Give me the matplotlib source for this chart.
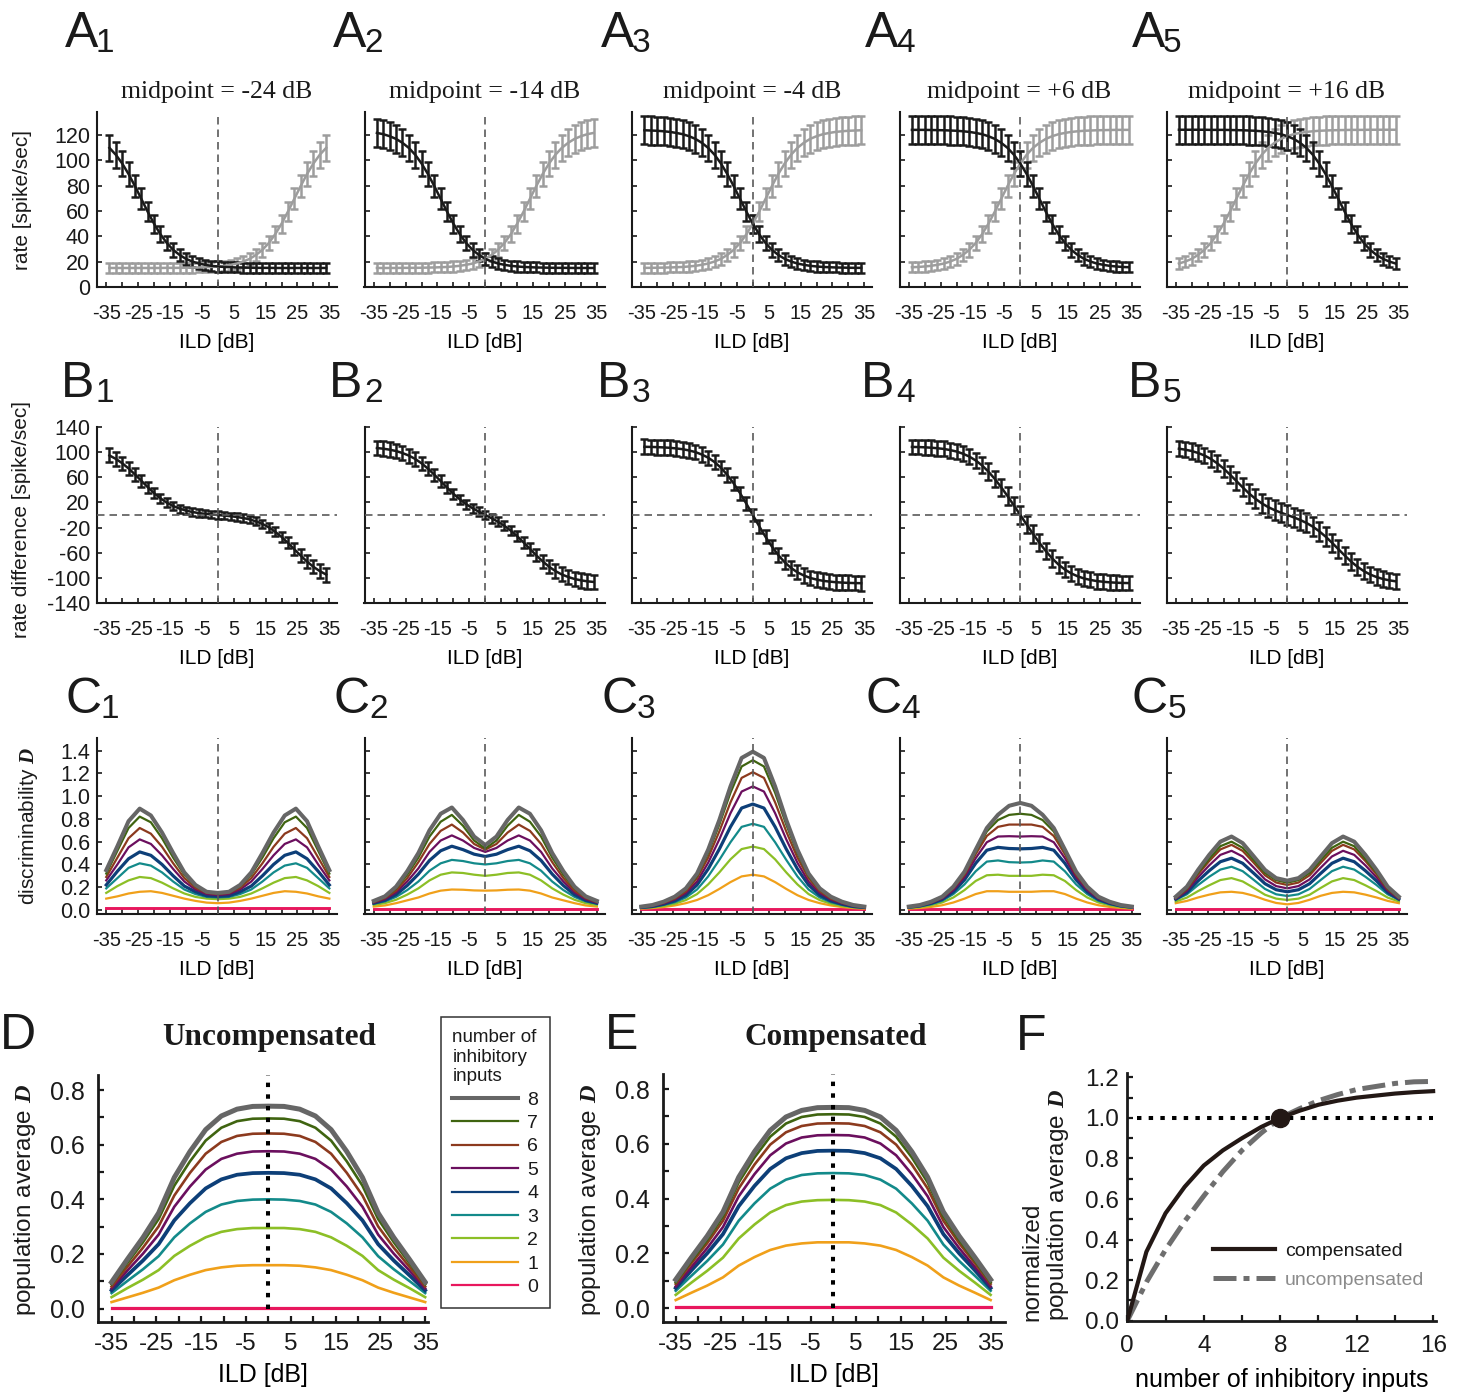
"""ILD tuning of two opponent channels, their rate difference and discriminability."""

import matplotlib.pyplot as plt
import numpy as np
from matplotlib.lines import Line2D
from matplotlib.ticker import FormatStrFormatter

FIG_W, FIG_H = 1460, 1393
DPI = 100
INK = "#1a1a1a"
GREY_RATE = "#9d9d9d"

plt.rcParams["font.family"] = "Liberation Sans"
plt.rcParams["mathtext.fontset"] = "custom"
plt.rcParams["mathtext.it"] = "Liberation Serif:italic:bold"
plt.rcParams["mathtext.rm"] = "Liberation Serif"
plt.rcParams["text.color"] = INK
plt.rcParams["axes.unicode_minus"] = False

# ---------------------------------------------------------------- data
ild_rate = [-34, -32, -30, -28, -26, -24, -22, -20, -18, -16, -14, -12,
            -10, -8, -6, -4, -2, 0, 2, 4, 6, 8, 10, 12, 14, 16, 18, 20,
            22, 24, 26, 28, 30, 32, 34]

# firing rate [spike/sec] of the channel that falls with ILD, one per midpoint
rate_m24 = [109.7, 104.3, 97.4, 89.1, 79.6, 69.5, 59.4, 49.9, 41.6, 34.7,
            29.3, 25.3, 22.2, 20.1, 18.5, 17.5, 16.7, 16.2, 15.8, 15.6,
            15.4, 15.3, 15.2, 15.1, 15.1, 15.1, 15.0, 15.0, 15.0, 15.0,
            15.0, 15.0, 15.0, 15.0, 15.0]
rate_m14 = [121.5, 120.5, 118.9, 116.8, 113.7, 109.7, 104.3, 97.4, 89.1, 79.6,
            69.5, 59.4, 49.9, 41.6, 34.7, 29.3, 25.3, 22.2, 20.1, 18.5,
            17.5, 16.7, 16.2, 15.8, 15.6, 15.4, 15.3, 15.2, 15.1, 15.1,
            15.1, 15.0, 15.0, 15.0, 15.0]
rate_m4 = [123.6, 123.4, 123.2, 122.8, 122.3, 121.5, 120.5, 118.9, 116.8, 113.7,
           109.7, 104.3, 97.4, 89.1, 79.6, 69.5, 59.4, 49.9, 41.6, 34.7,
           29.3, 25.3, 22.2, 20.1, 18.5, 17.5, 16.7, 16.2, 15.8, 15.6,
           15.4, 15.3, 15.2, 15.1, 15.1]
rate_p6 = [123.9, 123.9, 123.9, 123.8, 123.7, 123.6, 123.4, 123.2, 122.8, 122.3,
           121.5, 120.5, 118.9, 116.8, 113.7, 109.7, 104.3, 97.4, 89.1, 79.6,
           69.5, 59.4, 49.9, 41.6, 34.7, 29.3, 25.3, 22.2, 20.1, 18.5,
           17.5, 16.7, 16.2, 15.8, 15.6]
rate_p16 = [124.0, 124.0, 124.0, 124.0, 124.0, 123.9, 123.9, 123.9, 123.8, 123.7,
            123.6, 123.4, 123.2, 122.8, 122.3, 121.5, 120.5, 118.9, 116.8, 113.7,
            109.7, 104.3, 97.4, 89.1, 79.6, 69.5, 59.4, 49.9, 41.6, 34.7,
            29.3, 25.3, 22.2, 20.1, 18.5]

midpoint_titles = ["midpoint = -24 dB", "midpoint = -14 dB", "midpoint = -4 dB",
                   "midpoint = +6 dB", "midpoint = +16 dB"]

ild_disc = [-35, -31.5, -28, -24.5, -21, -17.5, -14, -10.5, -7, -3.5, 0,
            3.5, 7, 10.5, 14, 17.5, 21, 24.5, 28, 31.5, 35]

# discriminability D, rows = number of inhibitory inputs 0..8
disc_m24 = [
    [0.015] * 21,
    [0.10, 0.12, 0.145, 0.16, 0.165, 0.15, 0.125, 0.10, 0.08, 0.065, 0.06, 0.065, 0.08, 0.10, 0.125, 0.15, 0.165, 0.16, 0.145, 0.12, 0.10],
    [0.15, 0.21, 0.26, 0.29, 0.28, 0.24, 0.19, 0.145, 0.115, 0.10, 0.095, 0.10, 0.115, 0.145, 0.19, 0.24, 0.28, 0.29, 0.26, 0.21, 0.15],
    [0.19, 0.28, 0.37, 0.41, 0.39, 0.33, 0.25, 0.18, 0.14, 0.115, 0.11, 0.115, 0.14, 0.18, 0.25, 0.33, 0.39, 0.41, 0.37, 0.28, 0.19],
    [0.22, 0.34, 0.45, 0.51, 0.48, 0.40, 0.30, 0.21, 0.16, 0.125, 0.12, 0.125, 0.16, 0.21, 0.30, 0.40, 0.48, 0.51, 0.45, 0.34, 0.22],
    [0.26, 0.40, 0.55, 0.62, 0.58, 0.48, 0.36, 0.25, 0.18, 0.14, 0.13, 0.14, 0.18, 0.25, 0.36, 0.48, 0.58, 0.62, 0.55, 0.40, 0.26],
    [0.29, 0.46, 0.63, 0.72, 0.67, 0.555, 0.41, 0.28, 0.195, 0.15, 0.14, 0.15, 0.195, 0.28, 0.41, 0.555, 0.67, 0.72, 0.63, 0.46, 0.29],
    [0.32, 0.52, 0.72, 0.82, 0.77, 0.63, 0.46, 0.31, 0.21, 0.155, 0.145, 0.155, 0.21, 0.31, 0.46, 0.63, 0.77, 0.82, 0.72, 0.52, 0.32],
    [0.35, 0.56, 0.78, 0.89, 0.83, 0.68, 0.50, 0.33, 0.22, 0.16, 0.15, 0.16, 0.22, 0.33, 0.50, 0.68, 0.83, 0.89, 0.78, 0.56, 0.35],
]
disc_m14 = [
    [0.01] * 21,
    [0.03, 0.04, 0.06, 0.085, 0.11, 0.145, 0.17, 0.18, 0.178, 0.172, 0.17, 0.172, 0.178, 0.18, 0.17, 0.145, 0.11, 0.085, 0.06, 0.04, 0.03],
    [0.045, 0.06, 0.09, 0.135, 0.19, 0.26, 0.31, 0.33, 0.325, 0.31, 0.30, 0.31, 0.325, 0.33, 0.31, 0.26, 0.19, 0.135, 0.09, 0.06, 0.045],
    [0.055, 0.075, 0.115, 0.175, 0.25, 0.345, 0.41, 0.44, 0.43, 0.41, 0.40, 0.41, 0.43, 0.44, 0.41, 0.345, 0.25, 0.175, 0.115, 0.075, 0.055],
    [0.06, 0.085, 0.135, 0.215, 0.315, 0.435, 0.52, 0.56, 0.53, 0.49, 0.47, 0.49, 0.53, 0.56, 0.52, 0.435, 0.315, 0.215, 0.135, 0.085, 0.06],
    [0.065, 0.095, 0.155, 0.25, 0.365, 0.51, 0.61, 0.655, 0.61, 0.545, 0.51, 0.545, 0.61, 0.655, 0.61, 0.51, 0.365, 0.25, 0.155, 0.095, 0.065],
    [0.07, 0.105, 0.17, 0.28, 0.42, 0.58, 0.695, 0.75, 0.68, 0.58, 0.53, 0.58, 0.68, 0.75, 0.695, 0.58, 0.42, 0.28, 0.17, 0.105, 0.07],
    [0.075, 0.113, 0.19, 0.31, 0.46, 0.645, 0.775, 0.835, 0.74, 0.61, 0.54, 0.61, 0.74, 0.835, 0.775, 0.645, 0.46, 0.31, 0.19, 0.113, 0.075],
    [0.08, 0.12, 0.205, 0.34, 0.50, 0.70, 0.845, 0.90, 0.79, 0.645, 0.57, 0.645, 0.79, 0.90, 0.845, 0.70, 0.50, 0.34, 0.205, 0.12, 0.08],
]
disc_m4 = [
    [0.01] * 21,
    [0.012, 0.017, 0.026, 0.04, 0.06, 0.088, 0.13, 0.185, 0.245, 0.295, 0.31, 0.295, 0.245, 0.185, 0.13, 0.088, 0.06, 0.04, 0.026, 0.017, 0.012],
    [0.017, 0.023, 0.035, 0.055, 0.087, 0.14, 0.225, 0.33, 0.445, 0.535, 0.557, 0.535, 0.445, 0.33, 0.225, 0.14, 0.087, 0.055, 0.035, 0.023, 0.017],
    [0.02, 0.027, 0.044, 0.068, 0.11, 0.18, 0.295, 0.44, 0.595, 0.73, 0.757, 0.73, 0.595, 0.44, 0.295, 0.18, 0.11, 0.068, 0.044, 0.027, 0.02],
    [0.022, 0.031, 0.051, 0.08, 0.13, 0.22, 0.36, 0.535, 0.73, 0.895, 0.93, 0.895, 0.73, 0.535, 0.36, 0.22, 0.13, 0.08, 0.051, 0.031, 0.022],
    [0.025, 0.035, 0.058, 0.092, 0.15, 0.25, 0.415, 0.62, 0.85, 1.04, 1.085, 1.04, 0.85, 0.62, 0.415, 0.25, 0.15, 0.092, 0.058, 0.035, 0.025],
    [0.027, 0.039, 0.064, 0.10, 0.165, 0.28, 0.46, 0.69, 0.945, 1.16, 1.21, 1.16, 0.945, 0.69, 0.46, 0.28, 0.165, 0.10, 0.064, 0.039, 0.027],
    [0.03, 0.042, 0.07, 0.11, 0.18, 0.30, 0.50, 0.75, 1.03, 1.26, 1.315, 1.26, 1.03, 0.75, 0.50, 0.30, 0.18, 0.11, 0.07, 0.042, 0.03],
    [0.03, 0.044, 0.073, 0.117, 0.19, 0.32, 0.53, 0.79, 1.085, 1.335, 1.39, 1.335, 1.085, 0.79, 0.53, 0.32, 0.19, 0.117, 0.073, 0.044, 0.03],
]
disc_p6 = [
    [0.01] * 21,
    [0.012, 0.018, 0.027, 0.042, 0.066, 0.10, 0.14, 0.165, 0.165, 0.16, 0.16, 0.16, 0.165, 0.165, 0.14, 0.10, 0.066, 0.042, 0.027, 0.018, 0.012],
    [0.018, 0.026, 0.042, 0.066, 0.11, 0.175, 0.255, 0.305, 0.31, 0.30, 0.30, 0.30, 0.31, 0.305, 0.255, 0.175, 0.11, 0.066, 0.042, 0.026, 0.018],
    [0.021, 0.032, 0.051, 0.081, 0.14, 0.225, 0.34, 0.425, 0.435, 0.42, 0.417, 0.42, 0.435, 0.425, 0.34, 0.225, 0.14, 0.081, 0.051, 0.032, 0.021],
    [0.024, 0.036, 0.058, 0.093, 0.16, 0.265, 0.41, 0.525, 0.55, 0.54, 0.537, 0.54, 0.55, 0.525, 0.41, 0.265, 0.16, 0.093, 0.058, 0.036, 0.024],
    [0.026, 0.039, 0.063, 0.10, 0.175, 0.29, 0.455, 0.595, 0.645, 0.648, 0.645, 0.648, 0.645, 0.595, 0.455, 0.29, 0.175, 0.10, 0.063, 0.039, 0.026],
    [0.028, 0.041, 0.067, 0.108, 0.19, 0.31, 0.49, 0.65, 0.73, 0.75, 0.75, 0.75, 0.73, 0.65, 0.49, 0.31, 0.19, 0.108, 0.067, 0.041, 0.028],
    [0.03, 0.043, 0.07, 0.113, 0.198, 0.325, 0.51, 0.69, 0.79, 0.835, 0.845, 0.835, 0.79, 0.69, 0.51, 0.325, 0.198, 0.113, 0.07, 0.043, 0.03],
    [0.03, 0.044, 0.073, 0.117, 0.205, 0.337, 0.53, 0.72, 0.836, 0.915, 0.94, 0.915, 0.836, 0.72, 0.53, 0.337, 0.205, 0.117, 0.073, 0.044, 0.03],
]
disc_p16 = [
    [0.01] * 21,
    [0.06, 0.08, 0.11, 0.135, 0.155, 0.16, 0.15, 0.125, 0.09, 0.062, 0.05, 0.062, 0.09, 0.125, 0.15, 0.16, 0.155, 0.135, 0.11, 0.08, 0.06],
    [0.075, 0.109, 0.166, 0.217, 0.263, 0.28, 0.251, 0.194, 0.134, 0.10, 0.088, 0.10, 0.134, 0.194, 0.251, 0.28, 0.263, 0.217, 0.166, 0.109, 0.075],
    [0.09, 0.138, 0.219, 0.292, 0.355, 0.38, 0.341, 0.264, 0.185, 0.138, 0.123, 0.138, 0.185, 0.264, 0.341, 0.38, 0.355, 0.292, 0.219, 0.138, 0.09],
    [0.095, 0.155, 0.255, 0.345, 0.424, 0.455, 0.41, 0.322, 0.231, 0.178, 0.16, 0.178, 0.231, 0.322, 0.41, 0.455, 0.424, 0.345, 0.255, 0.155, 0.095],
    [0.10, 0.17, 0.287, 0.392, 0.484, 0.52, 0.47, 0.372, 0.269, 0.21, 0.19, 0.21, 0.269, 0.372, 0.47, 0.52, 0.484, 0.392, 0.287, 0.17, 0.10],
    [0.105, 0.183, 0.313, 0.43, 0.532, 0.572, 0.519, 0.414, 0.305, 0.241, 0.22, 0.241, 0.305, 0.414, 0.519, 0.572, 0.532, 0.43, 0.313, 0.183, 0.105],
    [0.11, 0.19, 0.33, 0.45, 0.56, 0.60, 0.546, 0.438, 0.326, 0.262, 0.24, 0.262, 0.326, 0.438, 0.546, 0.60, 0.56, 0.45, 0.33, 0.19, 0.11],
    [0.117, 0.205, 0.352, 0.484, 0.60, 0.645, 0.587, 0.47, 0.352, 0.28, 0.258, 0.28, 0.352, 0.47, 0.587, 0.645, 0.60, 0.484, 0.352, 0.205, 0.117],
]

# population average D, rows = number of inhibitory inputs 0..8
pop_uncomp = [
    [0.002] * 21,
    [0.024, 0.041, 0.058, 0.077, 0.104, 0.124, 0.141, 0.151, 0.157, 0.159, 0.159, 0.159, 0.157, 0.151, 0.141, 0.124, 0.104, 0.077, 0.058, 0.041, 0.024],
    [0.042, 0.075, 0.106, 0.141, 0.193, 0.23, 0.261, 0.281, 0.291, 0.295, 0.295, 0.295, 0.291, 0.281, 0.261, 0.23, 0.193, 0.141, 0.106, 0.075, 0.042],
    [0.057, 0.101, 0.144, 0.192, 0.261, 0.312, 0.354, 0.381, 0.394, 0.399, 0.40, 0.399, 0.394, 0.381, 0.354, 0.312, 0.261, 0.192, 0.144, 0.101, 0.057],
    [0.067, 0.122, 0.176, 0.236, 0.323, 0.386, 0.44, 0.473, 0.49, 0.496, 0.497, 0.496, 0.49, 0.473, 0.44, 0.386, 0.323, 0.236, 0.176, 0.122, 0.067],
    [0.074, 0.139, 0.201, 0.271, 0.373, 0.447, 0.509, 0.548, 0.567, 0.575, 0.576, 0.575, 0.567, 0.548, 0.509, 0.447, 0.373, 0.271, 0.201, 0.139, 0.074],
    [0.081, 0.153, 0.223, 0.301, 0.414, 0.497, 0.567, 0.61, 0.632, 0.64, 0.641, 0.64, 0.632, 0.61, 0.567, 0.497, 0.414, 0.301, 0.223, 0.153, 0.081],
    [0.089, 0.167, 0.243, 0.328, 0.45, 0.539, 0.615, 0.662, 0.686, 0.695, 0.696, 0.695, 0.686, 0.662, 0.615, 0.539, 0.45, 0.328, 0.243, 0.167, 0.089],
    [0.097, 0.18, 0.26, 0.35, 0.48, 0.575, 0.655, 0.705, 0.73, 0.74, 0.741, 0.74, 0.73, 0.705, 0.655, 0.575, 0.48, 0.35, 0.26, 0.18, 0.097],
]
pop_comp = [
    [0.003] * 21,
    [0.029, 0.056, 0.082, 0.112, 0.155, 0.186, 0.212, 0.228, 0.236, 0.24, 0.24, 0.24, 0.236, 0.228, 0.212, 0.186, 0.155, 0.112, 0.082, 0.056, 0.029],
    [0.048, 0.093, 0.136, 0.184, 0.254, 0.305, 0.349, 0.376, 0.389, 0.394, 0.395, 0.394, 0.389, 0.376, 0.349, 0.305, 0.254, 0.184, 0.136, 0.093, 0.048],
    [0.063, 0.118, 0.172, 0.232, 0.319, 0.382, 0.436, 0.469, 0.486, 0.492, 0.493, 0.492, 0.486, 0.469, 0.436, 0.382, 0.319, 0.232, 0.172, 0.118, 0.063],
    [0.073, 0.138, 0.2, 0.27, 0.372, 0.446, 0.508, 0.547, 0.566, 0.574, 0.575, 0.574, 0.566, 0.547, 0.508, 0.446, 0.372, 0.27, 0.2, 0.138, 0.073],
    [0.079, 0.15, 0.219, 0.296, 0.408, 0.489, 0.558, 0.601, 0.623, 0.631, 0.632, 0.631, 0.623, 0.601, 0.558, 0.489, 0.408, 0.296, 0.219, 0.15, 0.079],
    [0.088, 0.164, 0.237, 0.319, 0.437, 0.524, 0.597, 0.642, 0.665, 0.674, 0.675, 0.674, 0.665, 0.642, 0.597, 0.524, 0.437, 0.319, 0.237, 0.164, 0.088],
    [0.094, 0.173, 0.249, 0.335, 0.459, 0.55, 0.626, 0.674, 0.698, 0.707, 0.708, 0.707, 0.698, 0.674, 0.626, 0.55, 0.459, 0.335, 0.249, 0.173, 0.094],
    [0.104, 0.185, 0.263, 0.351, 0.478, 0.571, 0.649, 0.698, 0.722, 0.732, 0.733, 0.732, 0.722, 0.698, 0.649, 0.571, 0.478, 0.351, 0.263, 0.185, 0.104],
]

n_inputs = [0, 1, 2, 3, 4, 5, 6, 7, 8, 9, 10, 11, 12, 13, 14, 15, 16]
norm_comp = [0.0, 0.34, 0.53, 0.66, 0.765, 0.84, 0.90, 0.955, 1.0, 1.035,
             1.065, 1.085, 1.10, 1.11, 1.12, 1.127, 1.132]
norm_uncomp = [0.0, 0.19, 0.35, 0.49, 0.615, 0.735, 0.84, 0.925, 1.0, 1.045,
               1.085, 1.115, 1.14, 1.155, 1.17, 1.178, 1.18]
reference_n = 8

# ---------------------------------------------------------------- styles
series_colors = ["#e8175d", "#f0a01a", "#8cbf26", "#138a8a", "#0d3f78",
                 "#6b0f5e", "#8c3a1e", "#3f6410", "#666666"]
c_widths = [2.1, 1.6, 1.6, 1.6, 2.3, 1.6, 1.6, 1.6, 2.9]
pop_widths = [2.3, 1.9, 1.9, 1.9, 2.7, 1.9, 1.9, 1.9, 3.6]

ild_ticks = [-35, -25, -15, -5, 5, 15, 25, 35]
ild_minor = [-30, -20, -10, 0, 10, 20, 30]
col_left = [97, 364.5, 632, 899.5, 1166.5]
COL_W = 240

fig = plt.figure(figsize=(FIG_W / DPI, FIG_H / DPI), dpi=DPI)


def px_axes(left, top, right, bottom):
    return fig.add_axes([left / FIG_W, 1 - bottom / FIG_H,
                         (right - left) / FIG_W, (bottom - top) / FIG_H])


def fig_text(x, y, s, **kw):
    return fig.text(x / FIG_W, 1 - y / FIG_H, s, **kw)


def style_axes(ax, spine_w, tick_len, xsize, ysize, xpad, ypad):
    for side in ("top", "right"):
        ax.spines[side].set_visible(False)
    for side in ("left", "bottom"):
        ax.spines[side].set_linewidth(spine_w)
        ax.spines[side].set_color(INK)
    ax.tick_params(which="both", direction="in", length=tick_len,
                   width=spine_w * 0.8, colors=INK)
    ax.tick_params(axis="x", which="both", pad=xpad, labelsize=xsize)
    ax.tick_params(axis="y", which="both", pad=ypad, labelsize=ysize)


def ild_axis(ax):
    style_axes(ax, 1.5, 3.5, 14.5, 15.5, 12, 5)
    ax.set_xlim(-37.9, 37.4)
    ax.set_xticks(ild_ticks)
    ax.set_xticks(ild_minor, minor=True)


def panel_letter(x, y, letter, sub=None, sub_dx=31):
    fig_text(x, y, letter, fontsize=36, va="baseline", ha="left")
    if sub:
        fig_text(x + sub_dx, y + 5, sub, fontsize=24, va="baseline", ha="left")


def zero_line(ax, vertical=True):
    kw = dict(color="#5a5a5a", lw=1.2, dashes=(4.5, 3), zorder=5)
    if vertical:
        ax.axvline(0, **kw)
    else:
        ax.axhline(0, **kw)


rates = [rate_m24, rate_m14, rate_m4, rate_p6, rate_p16]
discs = [disc_m24, disc_m14, disc_m4, disc_p6, disc_p16]
err_kw = dict(elinewidth=1.8, capsize=2.8, capthick=1.8, lw=1.8)

for i in range(5):
    left = col_left[i]
    black = np.array(rates[i])
    grey = black[::-1]

    # row A: rates of the two opponent channels
    ax = px_axes(left, 112, left + COL_W, 287)
    ild_axis(ax)
    ax.errorbar(ild_rate, grey, yerr=np.sqrt(grey), color=GREY_RATE,
                ecolor=GREY_RATE, **err_kw)
    ax.errorbar(ild_rate, black, yerr=np.sqrt(black), color=INK,
                ecolor=INK, **err_kw)
    zero_line(ax)
    ax.set_ylim(0, 138)
    ax.set_yticks([0, 20, 40, 60, 80, 100, 120])
    ax.set_title(midpoint_titles[i], fontfamily="Liberation Serif",
                 fontsize=18.5, pad=10)
    ax.set_xlabel("ILD [dB]", fontsize=15)
    ax.xaxis.set_label_coords(0.5, -0.26)

    # row B: rate difference
    ax = px_axes(left, 427, left + COL_W, 603)
    ild_axis(ax)
    ax.errorbar(ild_rate, black - grey, yerr=np.sqrt(black + grey),
                color=INK, ecolor=INK, **err_kw)
    zero_line(ax)
    zero_line(ax, vertical=False)
    ax.set_ylim(-140, 140)
    ax.set_yticks([-140, -100, -60, -20, 20, 60, 100, 140])
    ax.set_xlabel("ILD [dB]", fontsize=15)
    ax.xaxis.set_label_coords(0.5, -0.26)

    # row C: discriminability for 0..8 inhibitory inputs
    ax = px_axes(left, 738, left + COL_W, 914)
    ild_axis(ax)
    for n, row in enumerate(discs[i]):
        ax.plot(ild_disc, row, color=series_colors[n], lw=c_widths[n],
                solid_joinstyle="round")
    zero_line(ax)
    ax.set_ylim(-0.035, 1.51)
    ax.set_yticks([0.0, 0.2, 0.4, 0.6, 0.8, 1.0, 1.2, 1.4])
    ax.yaxis.set_major_formatter(FormatStrFormatter("%.1f"))
    ax.set_xlabel("ILD [dB]", fontsize=15)
    ax.xaxis.set_label_coords(0.5, -0.26)

    if i > 0:
        for a in fig.axes[-3:]:
            a.set_yticklabels([])

# panel letters and row labels
for i, (xa, xb, xc) in enumerate(zip([65, 333, 601, 865, 1132],
                                     [61, 329, 597, 861, 1128],
                                     [65, 333, 601, 865, 1132])):
    panel_letter(xa, 47, "A", str(i + 1))
    panel_letter(xb, 397, "B", str(i + 1), sub_dx=35)
    panel_letter(xc, 713, "C", str(i + 1), sub_dx=36)

fig_text(23, 200, "rate [spike/sec]", rotation=90, ha="center", va="center",
         fontsize=15)
fig_text(22, 520, "rate difference [spike/sec]", rotation=90, ha="center",
         va="center", fontsize=15)
fig_text(29, 826, r"discriminability $D$", rotation=90, ha="center",
         va="center", fontsize=15)


# rows D and E: population averages
def population_panel(box, rows, title, title_x, ylabel_x):
    ax = px_axes(*box)
    style_axes(ax, 2.0, 4, 17.5, 18, 8, 9)
    for n, row in enumerate(rows):
        ax.plot(ild_disc, row, color=series_colors[n], lw=pop_widths[n],
                solid_joinstyle="round")
    ax.set_ylim(-0.05, 0.855)
    ax.set_yticks([0.0, 0.2, 0.4, 0.6, 0.8])
    ax.set_yticks([0.1, 0.3, 0.5, 0.7], minor=True)
    ax.yaxis.set_major_formatter(FormatStrFormatter("%.1f"))
    ax.set_xticks(ild_ticks)
    ax.set_xticks(ild_minor, minor=True)
    y0, y1 = ax.get_ylim()
    ax.axvline(0, ymin=(0 - y0) / (y1 - y0), color="black", lw=2.9,
               linestyle=(0, (1.1, 1.8)), zorder=5)
    ax.set_xlabel("ILD [dB]", fontsize=18)
    ax.xaxis.set_label_coords(0.5, -0.165)
    fig_text(title_x, 1045, title, fontfamily="Liberation Serif",
             fontweight="bold", fontsize=22.5, ha="center", va="baseline")
    fig_text(ylabel_x, 1200, r"population average $D$", rotation=90,
             ha="center", va="center", fontsize=17.5)
    return ax


ax_d = population_panel((97.7, 1075, 428.3, 1322.3), pop_uncomp,
                        "Uncompensated", 269, 25)
ax_d.set_xlim(-38.1, 35.7)
ax_e = population_panel((662.7, 1074, 1005, 1321.7), pop_comp,
                        "Compensated", 836, 590)
ax_e.set_xlim(-37.9, 38.2)

handles = [Line2D([], [], color=series_colors[n],
                  lw=2.9 if n == 8 else 1.6) for n in range(8, -1, -1)]
leg = ax_d.legend(handles, [str(n) for n in range(8, -1, -1)],
                  title="number of\ninhibitory\ninputs", loc="upper left",
                  bbox_to_anchor=(440.7 / FIG_W, 1 - 1017.3 / FIG_H),
                  bbox_transform=fig.transFigure, borderaxespad=0,
                  fontsize=14, title_fontsize=13.5, frameon=True,
                  fancybox=False, edgecolor="#333333", framealpha=1,
                  handlelength=3.4, handletextpad=0.45, labelspacing=0.3,
                  borderpad=0.6, alignment="left")
leg.get_frame().set_linewidth(1.1)

panel_letter(0, 1049, "D")
panel_letter(605, 1049, "E")
panel_letter(1016, 1050, "F")

# row F: normalized population average vs. number of inhibitory inputs
ax_f = px_axes(1127.3, 1073.3, 1436, 1320.7)
style_axes(ax_f, 2.0, 4, 17.5, 17.5, 10, 6)
ax_f.hlines(1.0, 0.5, 16, colors="black", lw=2.9,
            linestyles=(0, (1.1, 1.8)), zorder=1)
line_u, = ax_f.plot(n_inputs, norm_uncomp, color="#6e6e6e", lw=3.6,
                    dashes=(4.6, 1.4, 1.2, 1.4), dash_capstyle="butt",
                    zorder=2)
line_c, = ax_f.plot(n_inputs, norm_comp, color="#231815", lw=3.0, zorder=3)
ax_f.plot(n_inputs[reference_n], norm_comp[reference_n], "o", ms=13,
          color="#231815", zorder=4)
ax_f.set_xlim(0, 16.15)
ax_f.set_ylim(0, 1.22)
ax_f.set_xticks([0, 4, 8, 12, 16])
ax_f.set_xticks([2, 6, 10, 14], minor=True)
ax_f.set_yticks([0.0, 0.2, 0.4, 0.6, 0.8, 1.0, 1.2])
ax_f.set_yticks([0.1, 0.3, 0.5, 0.7, 0.9, 1.1], minor=True)
ax_f.yaxis.set_major_formatter(FormatStrFormatter("%.1f"))
ax_f.set_xlabel("number of inhibitory inputs", fontsize=18)
ax_f.xaxis.set_label_coords(0.5, -0.19)
fig_text(1046, 1205, "normalized\npopulation average $D$", rotation=90,
         ha="center", va="center", multialignment="left", fontsize=17.5,
         linespacing=1.1)
leg_f = ax_f.legend([line_c, line_u], ["compensated", "uncompensated"],
                    loc="upper left", bbox_to_anchor=(1213 / FIG_W, 1 - 1242 / FIG_H),
                    bbox_transform=fig.transFigure, frameon=False, borderpad=0,
                    borderaxespad=0, fontsize=14, handlelength=3.2,
                    handletextpad=0.5, labelspacing=0.6)
leg_f.get_texts()[1].set_color("#8c8c8c")

fig.savefig("out.png", dpi=DPI)
